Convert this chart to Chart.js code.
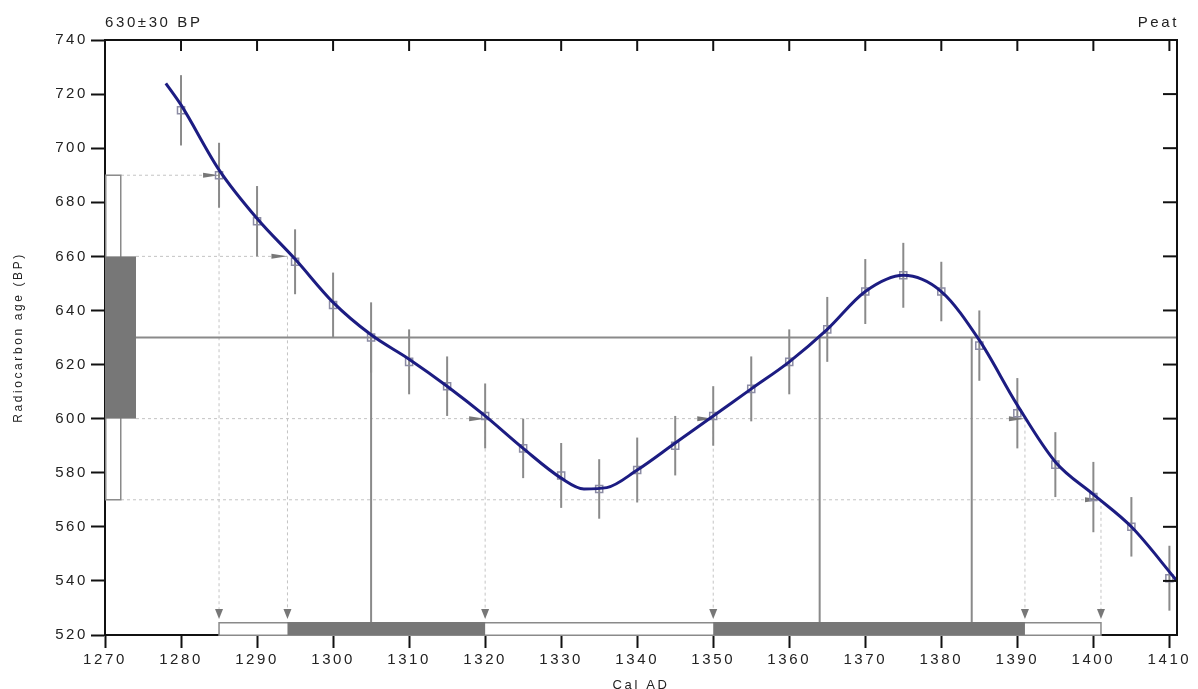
<!DOCTYPE html>
<html>
<head>
<meta charset="utf-8">
<title>Radiocarbon calibration</title>
<script src="https://cdn.jsdelivr.net/npm/chart.js@4.4.0/dist/chart.umd.min.js"></script>
<style>
html, body { margin: 0; padding: 0; background: #fff; }
#wrap { width: 1198px; height: 689px; }
</style>
</head>
<body>
<div id="wrap"><canvas id="calcanvas"></canvas></div>
<script>
// calibration curve data points (cal AD, BP, 1 sigma)
var years  = [1280, 1285, 1290, 1295, 1300, 1305, 1310, 1315, 1320, 1325, 1330, 1335, 1340, 1345,
              1350, 1355, 1360, 1365, 1370, 1375, 1380, 1385, 1390, 1395, 1400, 1405, 1410];
var ages   = [714, 690, 673, 658, 642, 630, 621, 612, 601, 589, 579, 574, 581, 590,
              601, 611, 621, 633, 647, 653, 647, 627, 602, 583, 571, 560, 541];
var errors = [13, 12, 13, 12, 12, 13, 12, 11, 12, 11, 12, 11, 12, 11,
              11, 12, 12, 12, 12, 12, 11, 13, 13, 12, 13, 11, 12];

// smoothed curve
var curveYears = [1278, 1280, 1285, 1290, 1295, 1300, 1305, 1310, 1315, 1320, 1325, 1330, 1333, 1336,
                  1340, 1345, 1350, 1355, 1360, 1365, 1370, 1375, 1380, 1385, 1390, 1395, 1400, 1405, 1411];
var curveAges  = [724, 716, 692, 674, 659, 643, 631, 622, 612, 601, 589, 578, 574, 574.5,
                  581, 591, 601, 611, 621, 633, 647, 653, 647, 629, 605, 584, 572, 560, 540];

// axis ticks
var calTicks = [1270, 1280, 1290, 1300, 1310, 1320, 1330, 1340, 1350, 1360, 1370, 1380, 1390, 1400, 1410];

// sample
var sampleAge = 630;
var sampleSigma = 30;

// where the sigma levels cut the curve
var hitYears = [1285, 1294, 1320, 1350, 1391, 1401];
var hitAges  = [690, 660, 600, 600, 600, 570];
var centreHitYears = [1305, 1364, 1384];
var oneSigmaRanges = [[1294, 1320], [1350, 1391]];
var twoSigmaRange = [1285, 1401];

var FONT = 'Liberation Sans, Arial, sans-serif';
var TEXT = '#222';
var GREY = '#8a8a8a';
var DARK = '#777';
var SPACING = '2.6px';

var calPlugin = {
    id: 'calibration',
    beforeUpdate: function(chart){ chart.ctx.letterSpacing = SPACING; },
    beforeDraw: function(chart){ chart.ctx.letterSpacing = SPACING; },
    beforeDatasetsDraw: function(chart){
        var ctx = chart.ctx, a = chart.chartArea;
        var X = function(v){ return chart.scales.x.getPixelForValue(v); };
        var Y = function(v){ return chart.scales.y.getPixelForValue(v); };
        var hi2 = sampleAge + 2 * sampleSigma, lo2 = sampleAge - 2 * sampleSigma;
        var hi1 = sampleAge + sampleSigma, lo1 = sampleAge - sampleSigma;
        var barTop = a.bottom - 13;
        ctx.save();

        // dashed guides
        ctx.setLineDash([3, 3]);
        ctx.strokeStyle = '#c4c4c4';
        ctx.lineWidth = 1;
        [hi2, hi1, lo1, lo2].forEach(function(lv){
            var far = 0;
            hitAges.forEach(function(h, i){ if (h === lv) far = Math.max(far, hitYears[i]); });
            var x0 = a.left + ((lv === hi2 || lv === lo2) ? 16 : 31);
            ctx.beginPath();
            ctx.moveTo(x0, Y(lv)); ctx.lineTo(X(far), Y(lv));
            ctx.stroke();
        });
        hitYears.forEach(function(yr, i){
            ctx.beginPath();
            ctx.moveTo(X(yr), Y(hitAges[i])); ctx.lineTo(X(yr), barTop - 12);
            ctx.stroke();
        });
        ctx.setLineDash([]);

        // error bars
        ctx.strokeStyle = GREY;
        ctx.lineWidth = 2;
        years.forEach(function(yr, i){
            ctx.beginPath();
            ctx.moveTo(X(yr), Y(ages[i] + errors[i]));
            ctx.lineTo(X(yr), Y(ages[i] - errors[i]));
            ctx.stroke();
        });

        // measured age and its intercepts
        ctx.beginPath();
        ctx.moveTo(a.left + 31, Y(sampleAge)); ctx.lineTo(a.right, Y(sampleAge));
        ctx.stroke();
        centreHitYears.forEach(function(yr){
            ctx.beginPath();
            ctx.moveTo(X(yr), Y(sampleAge)); ctx.lineTo(X(yr), barTop);
            ctx.stroke();
        });

        // age distribution boxes on the y axis
        ctx.lineWidth = 1.5;
        ctx.fillStyle = '#fff';
        ctx.fillRect(a.left, Y(hi2), 16, Y(lo2) - Y(hi2));
        ctx.strokeRect(a.left + 0.75, Y(hi2), 15, Y(lo2) - Y(hi2));
        ctx.fillStyle = DARK;
        ctx.fillRect(a.left, Y(hi1), 31, Y(lo1) - Y(hi1));

        // calendar ranges on the x axis
        ctx.fillStyle = '#fff';
        ctx.fillRect(X(twoSigmaRange[0]), barTop, X(twoSigmaRange[1]) - X(twoSigmaRange[0]), 13);
        ctx.strokeRect(X(twoSigmaRange[0]), barTop + 0.75, X(twoSigmaRange[1]) - X(twoSigmaRange[0]), 12.5);
        ctx.fillStyle = DARK;
        oneSigmaRanges.forEach(function(r){
            ctx.fillRect(X(r[0]), barTop, X(r[1]) - X(r[0]), 13);
        });

        // arrow heads
        ctx.fillStyle = DARK;
        hitYears.forEach(function(yr, i){
            var x = X(yr), y = Y(hitAges[i]);
            ctx.beginPath();
            ctx.moveTo(x - 4, barTop - 13); ctx.lineTo(x + 4, barTop - 13); ctx.lineTo(x, barTop - 3);
            ctx.closePath(); ctx.fill();
            ctx.beginPath();
            ctx.moveTo(x - 16, y - 2.5); ctx.lineTo(x - 16, y + 2.5); ctx.lineTo(x, y);
            ctx.closePath(); ctx.fill();
        });
        ctx.restore();
    },
    afterDraw: function(chart){
        var ctx = chart.ctx, a = chart.chartArea;
        var xs = chart.scales.x, ys = chart.scales.y;
        ctx.save();
        ctx.strokeStyle = '#111';
        ctx.lineWidth = 2;
        ctx.beginPath();
        ctx.moveTo(a.left, a.top); ctx.lineTo(a.right, a.top); ctx.lineTo(a.right, a.bottom);
        ctx.stroke();
        // inward ticks on top and right
        xs.ticks.forEach(function(t){
            var x = xs.getPixelForValue(t.value);
            ctx.beginPath(); ctx.moveTo(x, a.top); ctx.lineTo(x, a.top + 11); ctx.stroke();
        });
        ys.ticks.forEach(function(t){
            var y = ys.getPixelForValue(t.value);
            ctx.beginPath(); ctx.moveTo(a.right, y); ctx.lineTo(a.right - 14, y); ctx.stroke();
        });
        ctx.letterSpacing = SPACING;
        ctx.fillStyle = TEXT;
        ctx.font = '15px ' + FONT;
        ctx.textBaseline = 'middle';
        ctx.textAlign = 'left';
        ctx.fillText(sampleAge + '\u00b1' + sampleSigma + ' BP', a.left, 23);
        ctx.textAlign = 'right';
        ctx.fillText('Peat', a.right + 2, 23);
        ctx.restore();
    }
};

var calChart = new Chart(document.getElementById('calcanvas').getContext('2d'), {
    type: 'scatter',
    data: {
        datasets: [{
            label: 'Curve',
            type: 'line',
            data: curveYears.map(function(x, i){ return { x: x, y: curveAges[i] }; }),
            borderColor: '#1c1c82',
            borderWidth: 3,
            pointRadius: 0,
            fill: false,
            cubicInterpolationMode: 'monotone',
            order: 1
        }, {
            label: 'Data',
            data: years.map(function(x, i){ return { x: x, y: ages[i] }; }),
            pointStyle: 'rect',
            pointRadius: 5,
            borderWidth: 1.5,
            borderColor: '#8c8ca4',
            backgroundColor: 'rgba(0,0,0,0)',
            clip: false,
            order: 2
        }]
    },
    options: {
        responsive: true,
        maintainAspectRatio: false,
        animation: false,
        layout: { padding: { top: 40, right: 21, left: 0, bottom: 0 } },
        plugins: { legend: { display: false }, tooltip: { enabled: false } },
        scales: {
            x: {
                type: 'linear',
                min: 1270,
                max: 1411,
                afterFit: function(s){ s.height = 54; },
                afterBuildTicks: function(s){
                    s.ticks = calTicks.map(function(v){ return { value: v }; });
                },
                ticks: {
                    padding: 3,
                    color: TEXT,
                    font: { family: FONT, size: 15 },
                    maxRotation: 0,
                    autoSkip: false,
                    callback: function(v){ return String(v); }
                },
                grid: { drawOnChartArea: false, tickLength: 13, tickWidth: 2, tickColor: '#111' },
                border: { color: '#111', width: 2 },
                title: { display: true, text: 'Cal AD', color: TEXT, font: { family: FONT, size: 13 }, padding: { top: 0, bottom: -4 } }
            },
            y: {
                min: 520,
                max: 740,
                afterFit: function(s){ s.width = 105; },
                ticks: {
                    stepSize: 20,
                    padding: 3,
                    color: TEXT,
                    font: { family: FONT, size: 15 }
                },
                grid: { drawOnChartArea: false, tickLength: 14, tickWidth: 2, tickColor: '#111' },
                border: { color: '#111', width: 2 },
                title: { display: true, text: 'Radiocarbon age (BP)', color: TEXT, font: { family: FONT, size: 12 }, padding: { top: 11, bottom: 0 } }
            }
        }
    },
    plugins: [calPlugin]
});
</script>
</body>
</html>
